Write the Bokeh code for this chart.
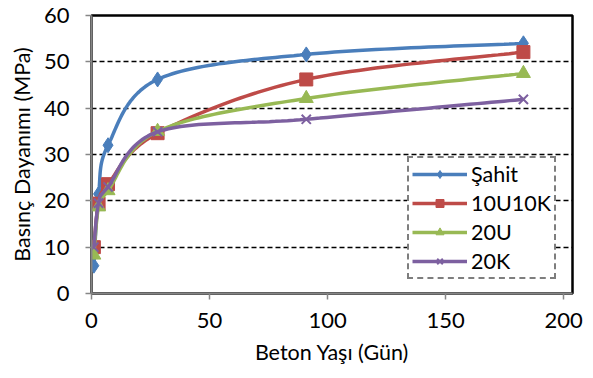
import numpy as np
from bokeh.plotting import figure
from bokeh.models import Range1d, FixedTicker, Legend, LegendItem
from bokeh.embed import file_html
from bokeh.resources import INLINE

days = [1, 3, 7, 28, 91, 183]
series_names = ["Şahit", "10U10K", "20U", "20K"]
sahit = [6.0, 21.5, 32.0, 46.2, 51.6, 54.0]
u10k10 = [10.0, 19.4, 23.6, 34.6, 46.2, 52.1]
u20 = [8.3, 18.7, 22.2, 35.0, 42.1, 47.5]
k20 = [10.0, 19.5, 23.0, 34.9, 37.6, 41.9]
x_ticks = [0, 50, 100, 150, 200]
y_ticks = [0, 10, 20, 30, 40, 50, 60]

colors = ["#4A7EBB", "#BE4B48", "#98B954", "#7D60A0"]
markers = ["diamond", "square", "triangle", "x"]
msizes = [15, 13, 14, 13]
all_series = [sahit, u10k10, u20, k20]

FONT = "Lato"


def smooth(xs, ys, n=30):
    # Catmull-Rom style smoothing (like a spreadsheet "smoothed line")
    xs = np.asarray(xs, float)
    ys = np.asarray(ys, float)
    px = np.concatenate([[xs[0]], xs, [xs[-1]]])
    py = np.concatenate([[ys[0]], ys, [ys[-1]]])
    ox, oy = [], []
    for i in range(1, len(px) - 2):
        p0 = np.array([px[i - 1], py[i - 1]])
        p1 = np.array([px[i], py[i]])
        p2 = np.array([px[i + 1], py[i + 1]])
        p3 = np.array([px[i + 2], py[i + 2]])
        c1 = p1 + (p2 - p0) / 6.0
        c2 = p2 - (p3 - p1) / 6.0
        t = np.linspace(0, 1, n)[:, None]
        b = ((1 - t) ** 3) * p1 + 3 * ((1 - t) ** 2) * t * c1 + 3 * (1 - t) * t ** 2 * c2 + t ** 3 * p2
        ox.extend(b[:, 0]); oy.extend(b[:, 1])
    return ox, oy


p = figure(width=593, height=378, output_backend="svg", toolbar_location=None,
           x_range=Range1d(0, 203.8), y_range=Range1d(0, 60),
           min_border_left=91, min_border_right=21, min_border_top=15, min_border_bottom=85)
p.background_fill_color = "white"
p.border_fill_color = "white"
p.outline_line_color = "black"
p.outline_line_width = 2.5

p.xgrid.visible = False
p.ygrid.ticker = FixedTicker(ticks=[10, 20, 30, 40, 50])
p.ygrid.grid_line_color = "black"
p.ygrid.grid_line_width = 1.5
p.ygrid.grid_line_dash = "5 3"

for ax in (p.xaxis[0], p.yaxis[0]):
    ax.axis_line_color = "#868686"
    ax.axis_line_width = 2
    ax.major_tick_line_color = "#868686"
    ax.major_tick_line_width = 1.5
    ax.major_tick_out = 6
    ax.major_tick_in = 0
    ax.minor_tick_line_color = None
    ax.major_label_text_font = FONT
    ax.major_label_text_font_size = "22px"
    ax.major_label_text_color = "black"
    ax.axis_label_text_font = FONT
    ax.axis_label_text_font_size = "21.5px"
    ax.axis_label_text_font_style = "normal"
    ax.axis_label_text_color = "black"

p.xaxis.ticker = FixedTicker(ticks=x_ticks)
p.yaxis.ticker = FixedTicker(ticks=y_ticks)
p.xaxis.axis_label = "Beton Yaşı (Gün)"
p.yaxis.axis_label = "Basınç Dayanımı (MPa)"
p.xaxis.major_label_standoff = 13
p.yaxis.major_label_standoff = 16
p.xaxis.axis_label_standoff = 8
p.yaxis.axis_label_standoff = 6

items = []
for name, ys, c, m, s in zip(series_names, all_series, colors, markers, msizes):
    sx, sy = smooth(days, ys)
    r1 = p.line(sx, sy, line_color=c, line_width=3.5)
    if m == "x":
        r2 = p.scatter(days, ys, marker=m, size=s, line_color=c, line_width=2)
    else:
        r2 = p.scatter(days, ys, marker=m, size=s, fill_color=c, line_color=c)
    items.append(LegendItem(label=name, renderers=[r1, r2]))

legend = Legend(items=items, location=(316, 14))
legend.label_text_font = FONT
legend.label_text_font_size = "21.5px"
legend.label_text_color = "black"
legend.glyph_width = 55
legend.glyph_height = 20
legend.label_height = 20
legend.spacing = 3
legend.padding = 3
legend.margin = 0
legend.label_standoff = 4
legend.border_line_color = "black"
legend.border_line_width = 2.5
legend.border_line_dash = "14 5 3 5"
legend.background_fill_color = "white"
legend.background_fill_alpha = 1
p.add_layout(legend, "center")

open("out.html", "w").write(file_html(p, INLINE))
